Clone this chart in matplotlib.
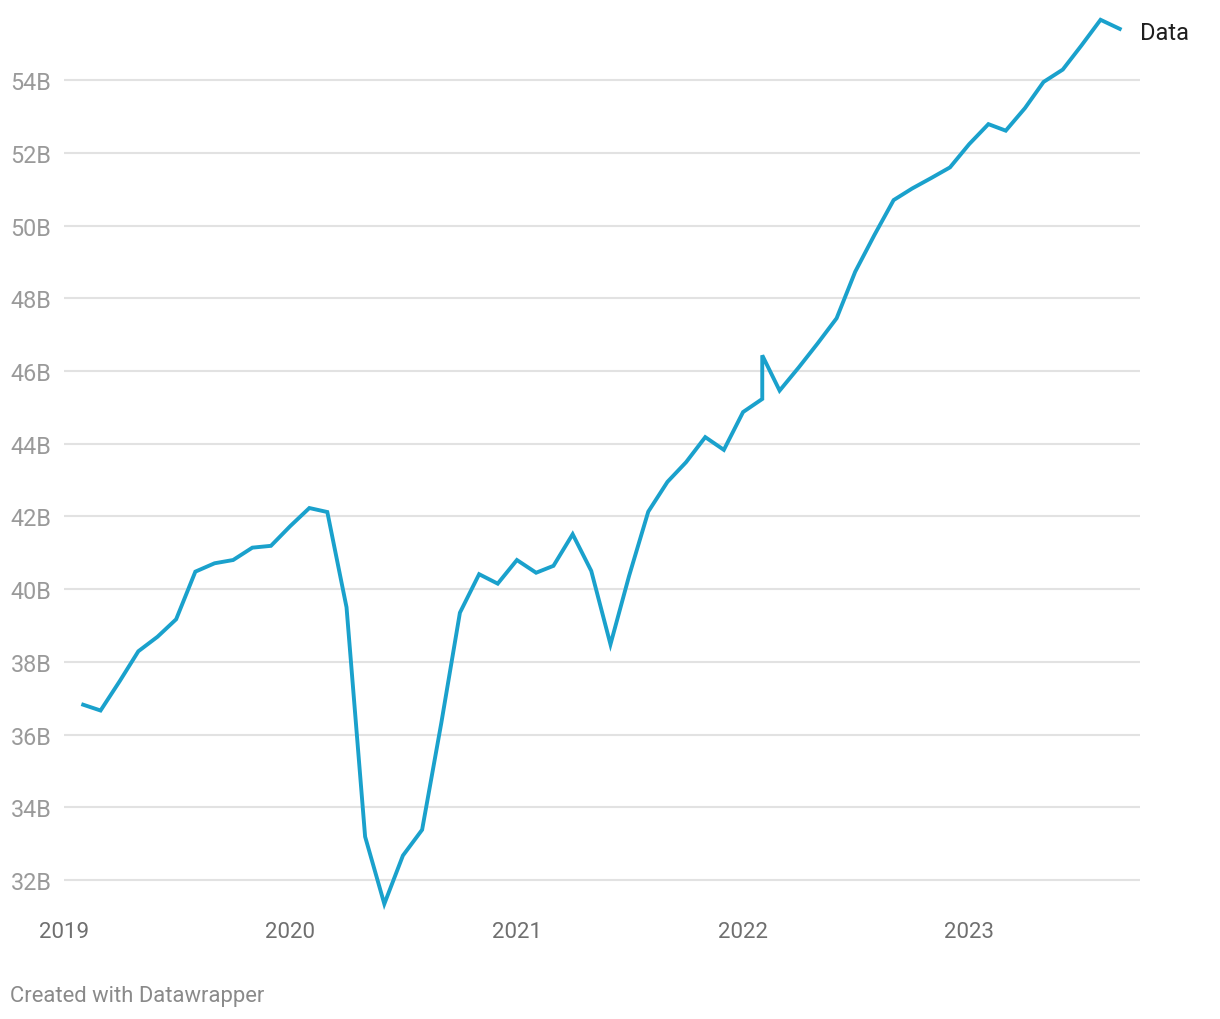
import matplotlib
matplotlib.use("Agg")
import matplotlib.pyplot as plt
import matplotlib.dates as mdates
from matplotlib.ticker import FuncFormatter
import pandas as pd

# months (Feb 2022 shows up twice in the source)
months = ["2019-02", "2019-03", "2019-04", "2019-05", "2019-06", "2019-07", "2019-08",
          "2019-09", "2019-10", "2019-11", "2019-12",
          "2020-01", "2020-02", "2020-03", "2020-04", "2020-05", "2020-06", "2020-07",
          "2020-08", "2020-09", "2020-10", "2020-11", "2020-12",
          "2021-01", "2021-02", "2021-03", "2021-04", "2021-05", "2021-06", "2021-07",
          "2021-08", "2021-09", "2021-10", "2021-11", "2021-12",
          "2022-01", "2022-02", "2022-02", "2022-03", "2022-04", "2022-05", "2022-06",
          "2022-07", "2022-08", "2022-09", "2022-10", "2022-11", "2022-12",
          "2023-01", "2023-02", "2023-03", "2023-04", "2023-05", "2023-06", "2023-07",
          "2023-08", "2023-09"]

# values in billions
values = [36.82, 36.66, 37.47, 38.29, 38.69, 39.17, 40.48, 40.71, 40.80, 41.14, 41.19,
          41.73, 42.23, 42.12, 39.50, 33.19, 31.34, 32.67, 33.38, 36.32, 39.35, 40.41, 40.15,
          40.80, 40.45, 40.64, 41.51, 40.50, 38.48, 40.36, 42.13, 42.95, 43.49, 44.18, 43.83,
          44.87, 45.23, 46.43, 45.46, 46.10, 46.75, 47.45, 48.73, 49.74, 50.70, 51.02, 51.31, 51.60,
          52.24, 52.79, 52.61, 53.23, 53.95, 54.29, 54.95, 55.66, 55.41]

y_ticks = [32, 34, 36, 38, 40, 42, 44, 46, 48, 50, 52, 54]
x_years = ["2019", "2020", "2021", "2022", "2023"]
series_name = "Data"

dates = pd.to_datetime(months)

plt.rcParams['font.family'] = ['Roboto', 'DejaVu Sans']

fig = plt.figure(figsize=(12.2, 10.2), dpi=100)
# axes placed in pixel terms: x 64..1140, y 22..911
ax = fig.add_axes([64 / 1220, 1 - 911 / 1020, 1076 / 1220, 889 / 1020])

ax.plot(dates, values, color="#1aa1cc", linewidth=2.8, solid_joinstyle="miter",
        clip_on=False, zorder=3)

start = mdates.date2num(pd.Timestamp("2019-01-01"))
ax.set_xlim(start, start + 1076 / 226.3 * 365.25)
ax.set_ylim(32 - 30 / 36.27, 54 + 59 / 36.27)

ax.set_yticks(y_ticks)
ax.yaxis.set_major_formatter(FuncFormatter(lambda v, p: "%dB" % v))
ax.set_xticks([mdates.date2num(pd.Timestamp(y + "-01-01")) for y in x_years])
ax.set_xticklabels(x_years)

ax.grid(axis="y", color="#e2e2e2", linewidth=1.5)
ax.set_axisbelow(True)
for s in ax.spines.values():
    s.set_visible(False)

ax.tick_params(axis="y", length=0, pad=9, labelsize=16.8, labelcolor="#9a9a9a")
ax.tick_params(axis="x", length=0, pad=8, labelsize=16, labelcolor="#6f6f6f")

# direct label at end of the line
ax.annotate(series_name, xy=(dates[-1], values[-1]), xytext=(20, -4),
            textcoords="offset pixels", va="center", ha="left",
            fontsize=17, color="#1f1f1f", annotation_clip=False)

fig.text(10 / 1220, 1 - 997 / 1020, "Created with Datawrapper", fontsize=15.8,
         color="#8a8a8a", va="center", ha="left")

fig.savefig("out.png", dpi=100)
plt.close(fig)
